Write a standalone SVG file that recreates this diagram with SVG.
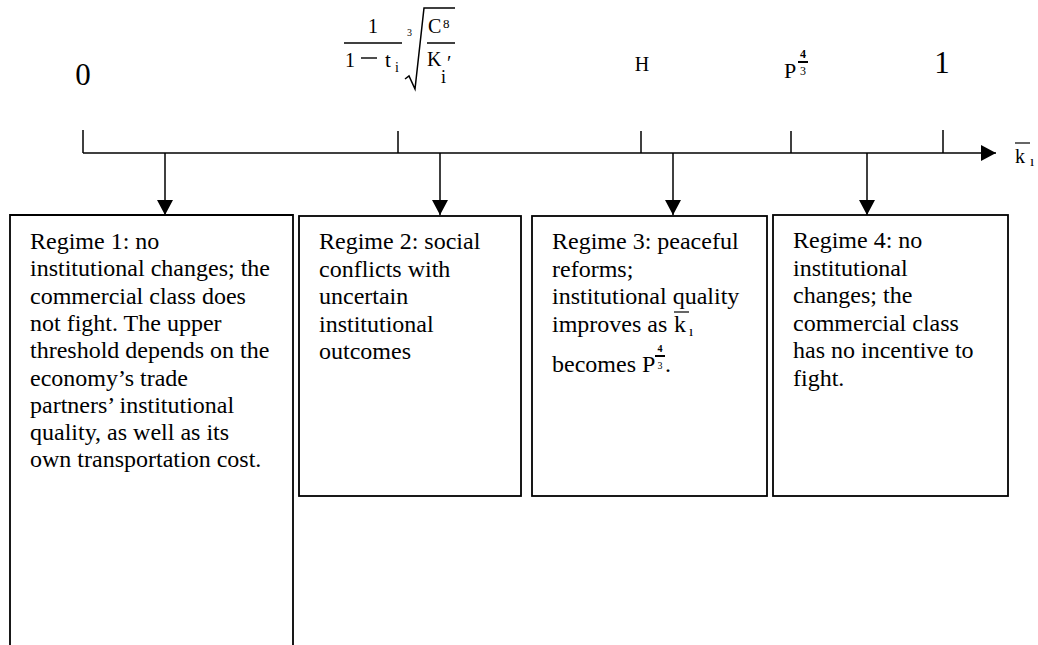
<svg xmlns="http://www.w3.org/2000/svg" width="1038" height="645" viewBox="0 0 1038 645">
<defs>
<style>
.t{font-family:"Liberation Serif","Times New Roman",serif;font-size:24px;fill:#000}
.m{font-family:"Liberation Serif","Times New Roman",serif;fill:#000}
.ln{stroke:#000;stroke-width:1.5;fill:none}
.box{stroke:#000;stroke-width:1.8;fill:#fff}
</style>
<marker id="ah" viewBox="0 0 15 16" refX="15" refY="8" markerWidth="15" markerHeight="16" markerUnits="userSpaceOnUse" orient="auto">
<path d="M0,0 L15,8 L0,16 Z" fill="#000"/>
</marker>
</defs>
<rect width="1038" height="645" fill="#fff"/>
<g id="labels">
<text class="m" x="83" y="85" font-size="31" text-anchor="middle">0</text>
<g id="formula">
<text class="m" x="373" y="33" font-size="20" text-anchor="middle">1</text>
<line class="ln" x1="344" y1="43" x2="402" y2="43"/>
<text class="m" x="345" y="67" font-size="20">1</text>
<line x1="361" y1="58" x2="377" y2="58" stroke="#000" stroke-width="1.4"/>
<text class="m" x="385" y="67" font-size="21">t</text>
<text class="m" x="395" y="72" font-size="14">i</text>
<text class="m" x="407" y="36" font-size="10">3</text>
<path class="ln" d="M405,79 L409,76 L415,89 L424,8 L455,8"/>
<text class="m" x="428" y="33" font-size="20">C</text>
<text class="m" x="443" y="28" font-size="13">8</text>
<line class="ln" x1="427" y1="43" x2="455" y2="43"/>
<text class="m" x="427" y="66" font-size="20">K</text>
<text class="m" x="441" y="83" font-size="18">i</text>
<text class="m" x="447" y="70" font-size="20">′</text>
</g>
<text class="m" x="642" y="71" font-size="20" text-anchor="middle">H</text>
<text class="m" x="784" y="78" font-size="22">P</text>
<text class="m" x="803" y="58" font-size="12" font-weight="bold" text-anchor="middle">4</text>
<line x1="798" y1="62" x2="808" y2="62" stroke="#000" stroke-width="2"/>
<text class="m" x="803" y="75" font-size="12" text-anchor="middle">3</text>
<text class="m" x="942" y="73" font-size="31" text-anchor="middle">1</text>
<text class="m" x="1015" y="163" font-size="20">k</text>
<line x1="1015" y1="143" x2="1030" y2="143" stroke="#000" stroke-width="1.2"/>
<text class="m" x="1030" y="166" font-size="15">ı</text>
</g>
<g id="connectors">
<line class="ln" x1="83" y1="153" x2="996" y2="153" marker-end="url(#ah)"/>
<line class="ln" x1="83" y1="130" x2="83" y2="153"/>
<line class="ln" x1="398" y1="131" x2="398" y2="153"/>
<line class="ln" x1="641" y1="131" x2="641" y2="153"/>
<line class="ln" x1="791" y1="131" x2="791" y2="153"/>
<line class="ln" x1="943" y1="130" x2="943" y2="153"/>
<line class="ln" x1="165" y1="153" x2="165" y2="215" marker-end="url(#ah)"/>
<line class="ln" x1="440" y1="153" x2="440" y2="215" marker-end="url(#ah)"/>
<line class="ln" x1="673" y1="153" x2="673" y2="215" marker-end="url(#ah)"/>
<line class="ln" x1="867" y1="153" x2="867" y2="215" marker-end="url(#ah)"/>
</g>
<g id="regime1">
<path class="box" d="M10,650 L10,215 L293,215 L293,650"/>
<text class="t" x="30" y="249">Regime 1: no</text>
<text class="t" x="30" y="276.3">institutional changes; the</text>
<text class="t" x="30" y="303.6">commercial class does</text>
<text class="t" x="30" y="330.9">not fight. The upper</text>
<text class="t" x="30" y="358.2">threshold depends on the</text>
<text class="t" x="30" y="385.5">economy’s trade</text>
<text class="t" x="30" y="412.8">partners’ institutional</text>
<text class="t" x="30" y="440.1">quality, as well as its</text>
<text class="t" x="30" y="467.4">own transportation cost.</text>
</g>
<g id="regime2">
<rect class="box" x="299" y="216" width="222" height="280"/>
<text class="t" x="319" y="249">Regime 2: social</text>
<text class="t" x="319" y="276.5">conflicts with</text>
<text class="t" x="319" y="304">uncertain</text>
<text class="t" x="319" y="331.5">institutional</text>
<text class="t" x="319" y="359">outcomes</text>
</g>
<g id="regime3">
<rect class="box" x="532" y="216" width="235" height="280"/>
<text class="t" x="552" y="249">Regime 3: peaceful</text>
<text class="t" x="552" y="276.5">reforms;</text>
<text class="t" x="552" y="304">institutional quality</text>
<text class="t" x="552" y="332">improves as <tspan x="674">k</tspan></text>
<line x1="674" y1="312" x2="689" y2="312" stroke="#000" stroke-width="1.2"/>
<text class="m" x="689" y="336" font-size="15">ı</text>
<text class="t" x="552" y="372">becomes P</text>
<text class="m" x="660" y="352" font-size="10" font-weight="bold" text-anchor="middle">4</text>
<line x1="655" y1="356" x2="665" y2="356" stroke="#000" stroke-width="2"/>
<text class="m" x="660" y="369" font-size="10" text-anchor="middle">3</text>
<text class="t" x="665" y="372">.</text>
</g>
<g id="regime4">
<rect class="box" x="773" y="215" width="235" height="281"/>
<text class="t" x="793" y="248">Regime 4: no</text>
<text class="t" x="793" y="275.5">institutional</text>
<text class="t" x="793" y="303">changes; the</text>
<text class="t" x="793" y="330.5">commercial class</text>
<text class="t" x="793" y="358">has no incentive to</text>
<text class="t" x="793" y="385.5">fight.</text>
</g>
</svg>
